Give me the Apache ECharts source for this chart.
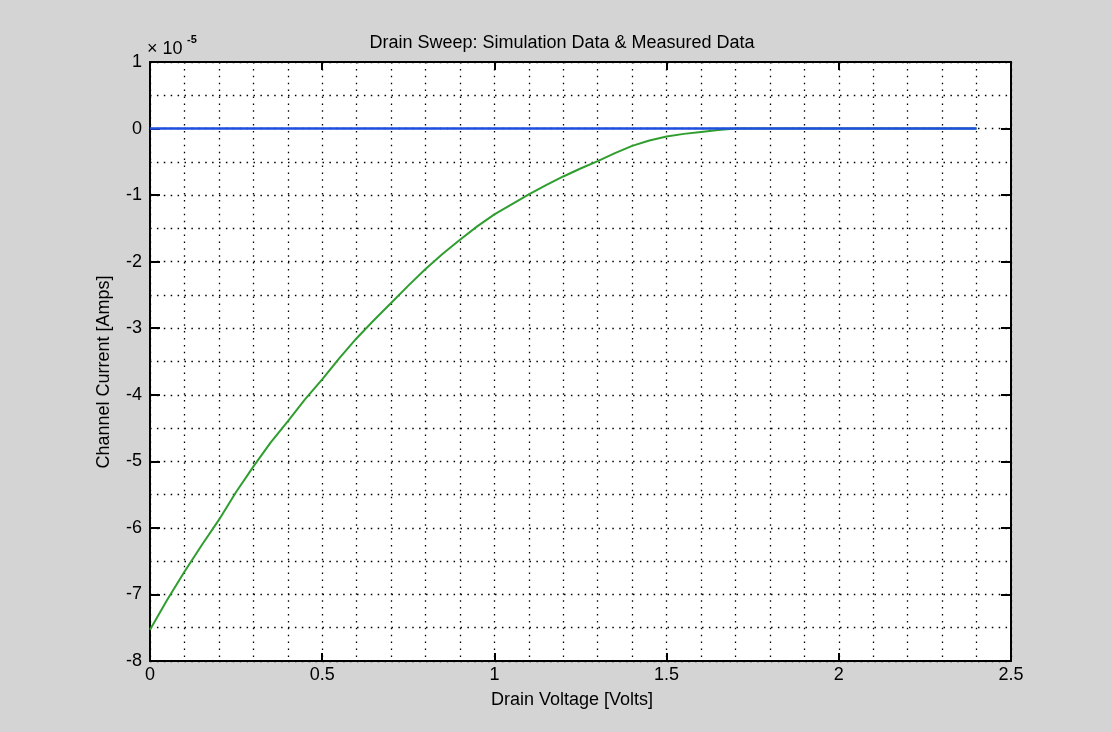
<!DOCTYPE html>
<html>
<head>
<meta charset="utf-8">
<script src="https://cdn.jsdelivr.net/npm/echarts@6/dist/echarts.min.js"></script>
<style>
html,body{margin:0;padding:0;background:#d4d4d4;}
#chart{width:1111px;height:732px;}
</style>
</head>
<body>
<div id="chart"></div>
<script>
// Drain voltage samples [Volts]
var voltage = [0,0.05,0.1,0.15,0.2,0.25,0.3,0.35,0.4,0.45,0.5,0.55,0.6,0.65,0.7,0.75,0.8,0.85,0.9,0.95,
  1.0,1.05,1.1,1.15,1.2,1.25,1.3,1.35,1.4,1.45,1.5,1.55,1.6,1.65,1.7,1.75,1.8,1.85,1.9,1.95,
  2.0,2.05,2.1,2.15,2.2,2.25,2.3,2.35,2.4];
// Channel current, in units of 1e-5 A (green curve)
var simulationCurrent = [-7.53,-7.08,-6.66,-6.26,-5.88,-5.46,-5.08,-4.72,-4.40,-4.07,-3.77,-3.45,-3.15,-2.88,-2.62,-2.36,-2.11,-1.88,-1.67,-1.47,
  -1.29,-1.14,-0.99,-0.85,-0.72,-0.60,-0.49,-0.37,-0.26,-0.18,-0.12,-0.08,-0.05,-0.02,0,0,0,0,0,0,
  0,0,0,0,0,0,0,0,0];
// Channel current, in units of 1e-5 A (blue line)
var measuredCurrent = [0,0,0,0,0,0,0,0,0,0,0,0,0,0,0,0,0,0,0,0,
  0,0,0,0,0,0,0,0,0,0,0,0,0,0,0,0,0,0,0,0,
  0,0,0,0,0,0,0,0,0];
var xTicks = [0,0.5,1,1.5,2,2.5];
var yTicks = [-8,-7,-6,-5,-4,-3,-2,-1,0,1];
var titleText = 'Drain Sweep: Simulation Data & Measured Data';
var xLabel = 'Drain Voltage [Volts]';
var yLabel = 'Channel Current [Amps]';
var exponentText = '-5';

var FONT = '"Liberation Sans", Arial, Helvetica, sans-serif';
var FS = 18;

function pairs(xs, ys){ return xs.map(function(x,i){ return [x, ys[i]]; }); }

var dotted = {color:'#000', width:1.3, type:[1.5,5.4]};

function fmtX(v){ return xTicks.indexOf(+v.toFixed(3)) >= 0 ? String(+v.toFixed(3)) : ''; }
function fmtY(v){ return yTicks.indexOf(+v.toFixed(3)) >= 0 ? String(+v.toFixed(3)) : ''; }

var chart = echarts.init(document.getElementById('chart'), null, {renderer:'canvas'});
chart.setOption({
  backgroundColor:'#d4d4d4',
  animation:false,
  grid:{left:150, right:100, top:62, bottom:71, show:true, backgroundColor:'#ffffff', borderWidth:0, containLabel:false},
  xAxis:[{
    type:'value', min:xTicks[0], max:xTicks[xTicks.length-1], interval:0.5, position:'bottom',
    axisLine:{show:true, onZero:false, lineStyle:{color:'#000', width:2}},
    axisTick:{show:true, inside:true, length:8, lineStyle:{color:'#000', width:2}},
    axisLabel:{show:true, margin:5, color:'#000', fontFamily:FONT, fontSize:FS, formatter:fmtX},
    splitLine:{show:true, lineStyle:dotted},
    minorTick:{show:false, splitNumber:5},
    minorSplitLine:{show:true, lineStyle:dotted}
  },{
    type:'value', min:xTicks[0], max:xTicks[xTicks.length-1], interval:0.5, position:'top',
    axisLine:{show:true, onZero:false, lineStyle:{color:'#000', width:2}},
    axisTick:{show:true, inside:true, length:8, lineStyle:{color:'#000', width:2}},
    axisLabel:{show:false}, splitLine:{show:false}
  }],
  yAxis:[{
    type:'value', min:yTicks[0], max:yTicks[yTicks.length-1], interval:1, position:'left',
    axisLine:{show:true, onZero:false, lineStyle:{color:'#000', width:2}},
    axisTick:{show:true, inside:true, length:10, lineStyle:{color:'#000', width:2}},
    axisLabel:{show:true, margin:8, color:'#000', fontFamily:FONT, fontSize:FS, formatter:fmtY},
    splitLine:{show:true, lineStyle:dotted},
    minorTick:{show:false, splitNumber:2},
    minorSplitLine:{show:true, lineStyle:dotted}
  },{
    type:'value', min:yTicks[0], max:yTicks[yTicks.length-1], interval:1, position:'right',
    axisLine:{show:true, onZero:false, lineStyle:{color:'#000', width:2}},
    axisTick:{show:true, inside:true, length:10, lineStyle:{color:'#000', width:2}},
    axisLabel:{show:false}, splitLine:{show:false}
  }],
  series:[{
    name:'Simulation Data', type:'line', xAxisIndex:0, yAxisIndex:0,
    data:pairs(voltage, simulationCurrent), showSymbol:false, symbol:'none',
    lineStyle:{color:'#2f9e2f', width:2}, z:3
  },{
    name:'Measured Data', type:'line', xAxisIndex:0, yAxisIndex:0,
    data:pairs(voltage, measuredCurrent), showSymbol:false, symbol:'none',
    lineStyle:{color:'#1e4fe0', width:2.5}, z:4
  }],
  graphic:[
    {type:'text', x:562, y:43, z:10, style:{text:titleText, align:'center', verticalAlign:'middle', font:FS+'px '+FONT, fill:'#000'}},
    {type:'text', x:572, y:700, z:10, style:{text:xLabel, align:'center', verticalAlign:'middle', font:FS+'px '+FONT, fill:'#000'}},
    {type:'text', x:104, y:372, rotation:Math.PI/2, z:10, style:{text:yLabel, align:'center', verticalAlign:'middle', font:FS+'px '+FONT, fill:'#000'}},
    {type:'text', x:147, y:49, z:10, style:{text:'\u00d7 10', align:'left', verticalAlign:'middle', font:FS+'px '+FONT, fill:'#000'}},
    {type:'text', x:187, y:40, z:10, style:{text:exponentText, align:'left', verticalAlign:'middle', font:'bold 11px '+FONT, fill:'#000'}}
  ]
});
</script>
</body>
</html>
